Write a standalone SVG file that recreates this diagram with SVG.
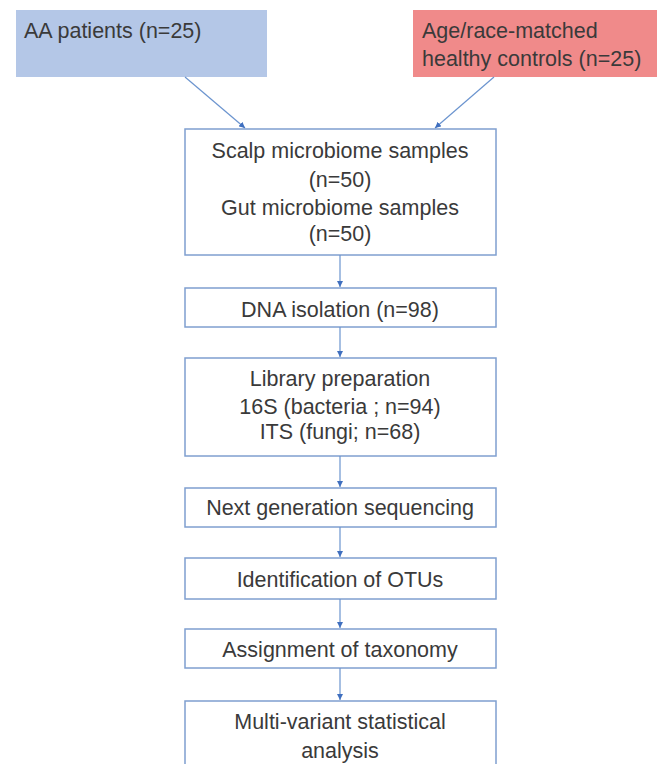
<svg xmlns="http://www.w3.org/2000/svg" width="657" height="764" viewBox="0 0 657 764">
<defs>
<style>
text{font-family:"Liberation Sans",Arial,sans-serif;font-size:21.5px;fill:#3a3a3a}
.c{text-anchor:middle}
.box{fill:#fff;stroke:#7f9fcf;stroke-width:1.5}
.con{stroke:#6b94cf;stroke-width:1.2;fill:none;marker-end:url(#ah)}
</style>
<marker id="ah" viewBox="0 0 10 10" refX="10" refY="5" markerWidth="6" markerHeight="6" orient="auto" markerUnits="userSpaceOnUse">
<path d="M0,0 L10,5 L0,10 z" fill="#3f6fbf"/>
</marker>
</defs>
<rect width="657" height="764" fill="#fff"/>
<g id="aa">
<rect x="16" y="10" width="251" height="67" fill="#b4c7e7"/>
<text x="24" y="38">AA patients (n=25)</text>
</g>
<g id="controls">
<rect x="413" y="10" width="244" height="67" fill="#f08a8a"/>
<text x="422" y="38">Age/race-matched</text>
<text x="422" y="66">healthy controls (n=25)</text>
</g>
<g id="samples">
<rect class="box" x="185" y="129" width="311" height="126"/>
<text class="c" x="340" y="158">Scalp microbiome samples</text>
<text class="c" x="340" y="187">(n=50)</text>
<text class="c" x="340" y="215">Gut microbiome samples</text>
<text class="c" x="340" y="241">(n=50)</text>
</g>
<g id="dna">
<rect class="box" x="185" y="288" width="311" height="39"/>
<text class="c" x="340" y="317">DNA isolation (n=98)</text>
</g>
<g id="library">
<rect class="box" x="185" y="358" width="311" height="98"/>
<text class="c" x="340" y="386">Library preparation</text>
<text class="c" x="340" y="414">16S (bacteria ; n=94)</text>
<text class="c" x="340" y="439">ITS (fungi; n=68)</text>
</g>
<g id="ngs">
<rect class="box" x="185" y="488" width="311" height="39"/>
<text class="c" x="340" y="515">Next generation sequencing</text>
</g>
<g id="otu">
<rect class="box" x="185" y="558" width="311" height="41"/>
<text class="c" x="340" y="587">Identification of OTUs</text>
</g>
<g id="taxonomy">
<rect class="box" x="185" y="629" width="311" height="39"/>
<text class="c" x="340" y="657">Assignment of taxonomy</text>
</g>
<g id="stats">
<rect class="box" x="185" y="701" width="311" height="75"/>
<text class="c" x="340" y="729">Multi-variant statistical</text>
<text class="c" x="340" y="758">analysis</text>
</g>
<g id="connectors">
<line class="con" x1="185" y1="77" x2="245" y2="128"/>
<line class="con" x1="494" y1="77" x2="435" y2="128"/>
<line class="con" x1="340" y1="255" x2="340" y2="287"/>
<line class="con" x1="340" y1="327" x2="340" y2="357"/>
<line class="con" x1="340" y1="456" x2="340" y2="487"/>
<line class="con" x1="340" y1="527" x2="340" y2="557"/>
<line class="con" x1="340" y1="599" x2="340" y2="628"/>
<line class="con" x1="340" y1="668" x2="340" y2="700"/>
</g>
</svg>
